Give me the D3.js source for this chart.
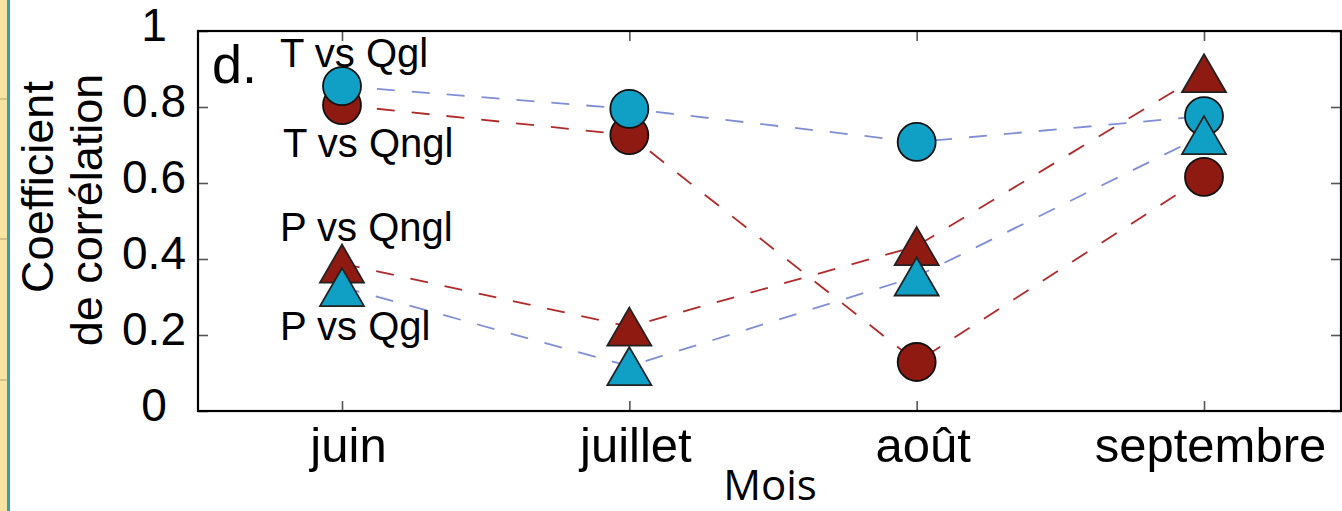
<!DOCTYPE html>
<html>
<head>
<meta charset="utf-8">
<script src="https://cdn.jsdelivr.net/npm/d3@7"></script>
<style>
  body { margin: 0; background: #fff; }
  svg text { font-family: "Liberation Sans", Arial, Helvetica, sans-serif; fill: #000; }
</style>
</head>
<body>
<svg width="1342" height="511"></svg>
<script>
// months on the x axis
const mois = ["juin", "juillet", "août", "septembre"];
const yTicks = [0, 0.2, 0.4, 0.6, 0.8, 1];

// correlation values
const tQngl = [0.805, 0.726, 0.129, 0.616];   // red circles
const pQngl = [0.388, 0.222, 0.434, 0.889];   // red triangles
const tQgl  = [0.855, 0.795, 0.708, 0.776];   // blue circles
const pQgl  = [0.326, 0.118, 0.354, 0.726];   // blue triangles

const rouge = "#8e1a12", bleu = "#10a0c6";
const rougeLigne = "#b02a2a", bleuLigne = "#7f8ed6";

var svg = d3.select("svg");

// left strip (page border of the original scan)
svg.append("rect").attr("x", 0).attr("y", 0).attr("width", 7).attr("height", 511).attr("fill", "#f7e4a2");
svg.append("rect").attr("x", 7).attr("y", 0).attr("width", 3).attr("height", 511).attr("fill", "#35a0b2");
[99, 239, 380].forEach(function(yy) {
  svg.append("line").attr("x1", 0).attr("x2", 7).attr("y1", yy).attr("y2", yy)
     .attr("stroke", "#b8a070").attr("stroke-width", 1);
});

var x = d3.scalePoint().domain(mois).range([342, 1204]);
var y = d3.scaleLinear().domain([0, 1]).range([411, 31]);
var left = 198, right = 1341;

// axes: ticks point inward
var gl = svg.append("g").attr("transform", "translate(" + left + ",0)")
  .call(d3.axisLeft(y).tickValues(yTicks).tickSize(-10).tickFormat(d3.format("~g")));
gl.selectAll("text").attr("text-anchor", "middle").attr("x", -44).attr("dy", "0.32em")
  .attr("y", -5).style("font-size", "46px");

svg.append("g").attr("transform", "translate(" + right + ",0)")
  .call(d3.axisRight(y).tickValues(yTicks).tickSize(-10).tickFormat(""));

var gb = svg.append("g").attr("transform", "translate(0," + y(0) + ")")
  .call(d3.axisBottom(x).tickSize(-10).tickPadding(16));
gb.selectAll("text").attr("x", 6).style("font-size", "49px");

svg.append("g").attr("transform", "translate(0," + y(1) + ")")
  .call(d3.axisTop(x).tickSize(-10).tickFormat(""));

svg.selectAll(".domain").remove();
svg.selectAll(".tick line").attr("stroke", "#555").attr("stroke-width", 1.6);

// frame
svg.append("rect").attr("x", left).attr("y", y(1)).attr("width", right - left).attr("height", y(0) - y(1))
  .attr("fill", "none").attr("stroke", "#000").attr("stroke-width", 2.2);

// dashed lines
var line = d3.line().x(function(d, i) { return x(mois[i]); }).y(function(d) { return y(d); });
[[tQngl, rougeLigne], [pQngl, rougeLigne], [tQgl, bleuLigne], [pQgl, bleuLigne]].forEach(function(s) {
  svg.append("path").attr("d", line(s[0])).attr("fill", "none")
    .attr("stroke", s[1]).attr("stroke-width", 1.8).attr("stroke-dasharray", "18,17");
});

// markers
function cercles(vals, col) {
  svg.append("g").selectAll("circle").data(vals).enter().append("circle")
    .attr("cx", function(d, i) { return x(mois[i]); })
    .attr("cy", function(d) { return y(d); })
    .attr("r", 19).attr("fill", col).attr("stroke", "#111").attr("stroke-width", 1.8);
}
function triangles(vals, col) {
  svg.append("g").selectAll("path").data(vals).enter().append("path")
    .attr("d", "M0,-19L22,19L-22,19Z")
    .attr("transform", function(d, i) { return "translate(" + x(mois[i]) + "," + y(d) + ")"; })
    .attr("fill", col).attr("stroke", "#222").attr("stroke-width", 1.8).attr("stroke-linejoin", "miter");
}
cercles(tQngl, rouge);
triangles(pQngl, rouge);
cercles(tQgl, bleu);
triangles(pQgl, bleu);

// annotations
svg.append("text").attr("x", 212).attr("y", 83).style("font-size", "54px").text("d.");
var notes = [["T vs Qgl", 280, 67], ["T vs Qngl", 283, 157], ["P vs Qngl", 280, 241], ["P vs Qgl", 280, 340]];
notes.forEach(function(n) {
  svg.append("text").attr("x", n[1]).attr("y", n[2]).style("font-size", "40px").text(n[0]);
});

// axis titles
svg.append("text").attr("transform", "translate(53,187) rotate(-90)").attr("text-anchor", "middle")
  .style("font-size", "45px").text("Coefficient");
svg.append("text").attr("transform", "translate(102,210) rotate(-90)").attr("text-anchor", "middle")
  .style("font-size", "45px").text("de corrélation");
svg.append("text").attr("x", 770).attr("y", 500).attr("text-anchor", "middle")
  .style("font-size", "42px").style("font-family", "'Open Sans', sans-serif").text("Mois");
</script>
</body>
</html>
